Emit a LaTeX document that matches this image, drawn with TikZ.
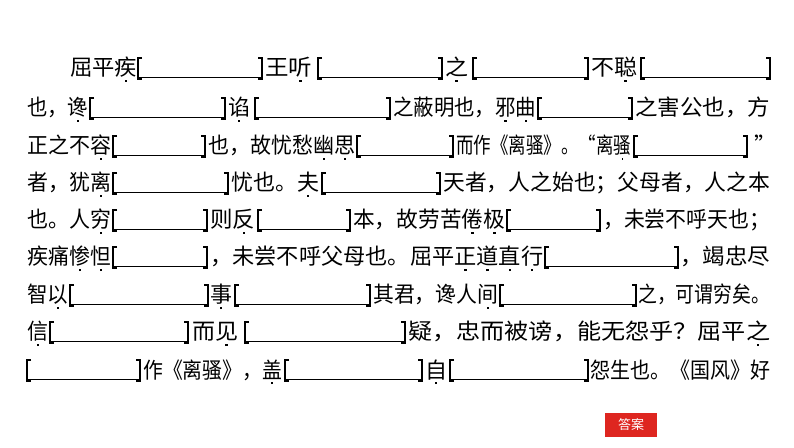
\documentclass[tikz,border=0pt]{standalone}
\usepackage{fontspec}
\setmainfont{Noto Sans CJK SC}
\definecolor{btnred}{RGB}{222,38,32}
% dot under a character
\newcommand{\dt}[1]{\makebox[0pt][l]{\makebox[1em][c]{\raisebox{-6pt}{\rule{2.4pt}{2.4pt}}}}#1}
\tikzset{
  seg/.style={anchor=base west, inner sep=0pt, font=\fontsize{22}{22}\selectfont},
  brk/.style={line width=1.5pt},
  uline/.style={line width=0.9pt}
}
% text piece: name, left x, line centre y, width
\newcommand{\tx}[5]{\node[seg] (#1) at (#2,{447-#3-8}) {\resizebox{#4pt}{\height}{#5}};}
% bracket gap: left x, right x, line centre y
\newcommand{\gp}[3]{%
  \draw[brk] ({#1+4},{447-#3+10}) -- (#1,{447-#3+10}) -- (#1,{447-#3-11}) -- ({#1+4},{447-#3-11});
  \draw[brk] ({#2-4},{447-#3+10}) -- (#2,{447-#3+10}) -- (#2,{447-#3-11}) -- ({#2-4},{447-#3-11});
  \draw[uline] (#1,{447-#3-9}) -- (#2,{447-#3-9});}
\begin{document}
\begin{tikzpicture}[x=1pt,y=1pt]
\useasboundingbox (0,0) rectangle (794,447);
% line 1
\tx{la}{70}{68}{67}{屈平\dt{疾}} \gp{138}{262}{68}
\tx{lb}{265}{68}{47}{王\dt{听}} \gp{318}{442}{68}
\tx{lc}{445}{68}{23}{\dt{之}} \gp{473}{588}{68}
\tx{ld}{591}{68}{46}{不\dt{聪}} \gp{641}{770}{68}
% line 2
\tx{ma}{27}{108}{61}{也，\dt{谗}} \gp{90}{225}{108}
\tx{mb}{228}{108}{22}{\dt{谄}} \gp{255}{390}{108}
\tx{mc}{393}{108}{143}{之蔽明也，\dt{邪}\dt{曲}} \gp{538}{632}{108}
\tx{md}{635}{108}{135}{之害公也，方}
% line 3
\tx{na}{27}{146}{84}{正之不\dt{容}} \gp{113}{205}{146}
\tx{nb}{208}{146}{147}{也，故忧愁\dt{幽}\dt{思}} \gp{357}{453}{146}
\tx{nc}{456}{146}{175}{而作《离骚》。“离\dt{骚}} \gp{634}{747}{146}
\node[seg] (nd) at (754,{447-146-8}) {”};
% line 4
\tx{oa}{27}{183}{84}{者，犹\dt{离}} \gp{113}{228}{183}
\tx{ob}{231}{183}{88}{忧也。\dt{夫}} \gp{322}{440}{183}
\tx{oc}{443}{183}{327}{天者，人之始也；父母者，人之本}
% line 5
\tx{pa}{27}{220}{84}{也。人\dt{穷}} \gp{113}{207}{220}
\tx{pb}{210}{220}{45}{则\dt{反}} \gp{258}{350}{220}
\tx{pc}{353}{220}{152}{本，故劳苦\dt{倦}\dt{极}} \gp{507}{600}{220}
\tx{pd}{603}{220}{167}{，未尝不呼天也；}
% line 6
\tx{qa}{27}{257}{84}{疾痛\dt{惨}\dt{怛}} \gp{113}{207}{257}
\tx{qb}{210}{257}{333}{，未尝不呼父母也。屈平\dt{正}\dt{道}\dt{直}\dt{行}} \gp{545}{678}{257}
\tx{qc}{680}{257}{90}{，竭忠尽}
% line 7
\tx{ra}{27}{295}{41}{智\dt{以}} \gp{70}{208}{295}
\tx{rb}{210}{295}{22}{\dt{事}} \gp{235}{370}{295}
\tx{rc}{373}{295}{125}{其君，谗人\dt{间}} \gp{500}{636}{295}
\tx{rd}{638}{295}{132}{之，可谓穷矣。}
% line 8
\tx{sa}{27}{332}{21}{\dt{信}} \gp{50}{188}{332}
\tx{sb}{192}{332}{46}{而\dt{见}} \gp{245}{405}{332}
\tx{sc}{408}{332}{362}{疑，忠而被谤，能无怨乎？屈平\dt{之}}
% line 9
\gp{27}{140}{370}
\tx{ua}{143}{370}{139}{作《离骚》，\dt{盖}} \gp{285}{422}{370}
\tx{ub}{425}{370}{22}{\dt{自}} \gp{450}{588}{370}
\tx{uc}{590}{370}{180}{怨生也。《国风》好}
% answer button
\node[fill=btnred, text=white, minimum width=52pt, minimum height=24pt, inner sep=0pt,
  font=\fontsize{13}{13}\selectfont] (answer) at (631,22) {答案};
\end{tikzpicture}
\end{document}
